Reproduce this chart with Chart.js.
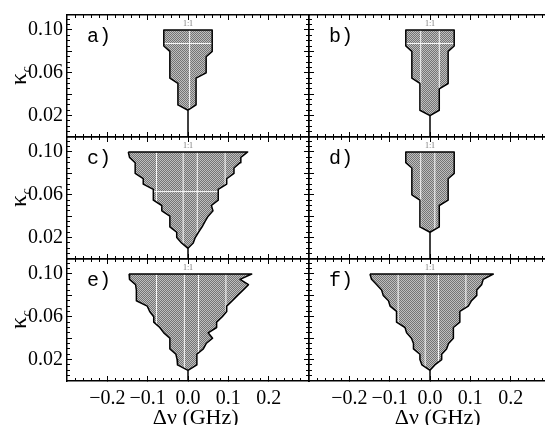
<!DOCTYPE html>
<html><head><meta charset="utf-8">
<script src="https://cdn.jsdelivr.net/npm/chart.js@4.4.0/dist/chart.umd.min.js"></script>
<style>
html,body{margin:0;padding:0;background:#fff;overflow:hidden;width:545px;height:425px;}
#wrap{position:relative;width:545px;height:425px;overflow:hidden;background:#fff;}
canvas{position:absolute;}
</style></head><body><div id="wrap"></div>
<script>
// ---------- data (kappa_c levels, left / right edge of the 1:1 locking region, GHz) ----------
const KAPPA_A = [0.025,0.03,0.035,0.04,0.045,0.05,0.055,0.06,0.065,0.07,0.075,0.08,0.085,0.09,0.095,0.10];
const LEFT_A  = [0,-0.025,-0.025,-0.025,-0.025,-0.025,-0.045,-0.045,-0.045,-0.045,-0.045,-0.045,-0.06,-0.06,-0.06,-0.06];
const RIGHT_A = [0,0.02,0.02,0.02,0.02,0.02,0.02,0.045,0.045,0.045,0.045,0.06,0.06,0.06,0.06,0.06];

const KAPPA_B = [0.02,0.025,0.03,0.035,0.04,0.045,0.05,0.055,0.06,0.065,0.07,0.075,0.08,0.085,0.09,0.095,0.10];
const LEFT_B  = [0,-0.025,-0.025,-0.025,-0.025,-0.025,-0.025,-0.045,-0.045,-0.045,-0.045,-0.045,-0.045,-0.06,-0.06,-0.06,-0.06];
const RIGHT_B = [0,0.023,0.023,0.023,0.023,0.023,0.045,0.045,0.045,0.045,0.045,0.045,0.045,0.06,0.06,0.06,0.06];

const KAPPA_D = [0.025,0.03,0.035,0.04,0.045,0.05,0.055,0.06,0.065,0.07,0.075,0.08,0.085,0.09,0.095,0.10];
const LEFT_D  = [0,-0.025,-0.025,-0.025,-0.025,-0.025,-0.025,-0.045,-0.045,-0.045,-0.045,-0.045,-0.045,-0.06,-0.06,-0.06];
const RIGHT_D = [0,0.023,0.023,0.023,0.023,0.023,0.045,0.045,0.045,0.045,0.045,0.06,0.06,0.06,0.06,0.06];

const KAPPA_WIDE = [0.01,0.015,0.02,0.025,0.03,0.035,0.04,0.045,0.05,0.055,0.06,0.065,0.07,0.075,0.08,0.085,0.09,0.095,0.10];
const LEFT_C  = [0,-0.016,-0.028,-0.028,-0.045,-0.045,-0.045,-0.065,-0.065,-0.086,-0.086,-0.086,-0.111,-0.111,-0.131,-0.131,-0.131,-0.145,-0.148];
const RIGHT_C = [0,0.013,0.018,0.026,0.035,0.042,0.05,0.062,0.058,0.075,0.075,0.075,0.096,0.096,0.114,0.114,0.129,0.131,0.148];
const LEFT_E  = [0,-0.026,-0.027,-0.03,-0.045,-0.045,-0.045,-0.06,-0.07,-0.085,-0.085,-0.095,-0.101,-0.128,-0.128,-0.128,-0.13,-0.145,-0.146];
const RIGHT_E = [0,0.022,0.022,0.022,0.038,0.045,0.061,0.05,0.071,0.071,0.085,0.096,0.096,0.11,0.123,0.137,0.15,0.129,0.158];
const LEFT_F  = [0,-0.02,-0.025,-0.025,-0.041,-0.041,-0.046,-0.058,-0.062,-0.083,-0.083,-0.083,-0.099,-0.103,-0.116,-0.12,-0.132,-0.145,-0.149];
const RIGHT_F = [0,0.012,0.029,0.029,0.041,0.046,0.058,0.058,0.058,0.074,0.074,0.074,0.095,0.103,0.116,0.116,0.128,0.132,0.157];

// white seams visible inside the filled regions
const SEAMX_A = [0.004], SEAMY_A = [0.0874];
const SEAMX_B = [-0.023,0.023], SEAMY_B = [0.0874];
const SEAMX_C = [-0.078,-0.012,0.023,0.092], SEAMY_C = [0.063];
const SEAMX_D = [-0.023,0.012], SEAMY_D = [];
const SEAMX_E = [-0.078,-0.009,0.026,0.094], SEAMY_E = [];
const SEAMX_F = [-0.079,-0.012,0.021,0.089], SEAMY_F = [];

const PANEL_LETTERS = ['a)','b)','c)','d)','e)','f)'];
const RATIO_LABEL = '1:1';

// ---------- axes / ticks ----------
const X_MAJOR = [-0.2,-0.1,0,0.1,0.2];
const X_LABELS = ['\u22120.2','\u22120.1','0.0','0.1','0.2'];
const Y_MAJOR = [0.02,0.04,0.06,0.08,0.10];
const Y_LABEL_VALUES = [0.02,0.06,0.10];
const Y_LABEL_TEXT = ['0.02','0.06','0.10'];
const X_MINOR = []; for (let i=-14;i<=14;i++) X_MINOR.push(i*0.02);
const Y_MINOR = []; for (let i=1;i<=22;i++) Y_MINOR.push(i*0.005);
const X_MIN=-0.3, X_MAX=0.3, Y_MIN=0, Y_MAX=0.114;
const X_TITLE = '\u2002\u2009\u0394\u03bd (GHz)';

// ---------- layout ----------
const COL_LEFT=[67,309], ROW_TOP=[15,137,259], PW=242, PH=122;

Chart.defaults.font.family = '"Liberation Serif", "Times New Roman", serif';
Chart.defaults.color = '#000';

function makePattern(){
  const c=document.createElement('canvas'); c.width=2; c.height=2;
  const g=c.getContext('2d');
  g.fillStyle='#bebebe'; g.fillRect(0,0,2,2);
  g.fillStyle='#747474'; g.fillRect(0,0,1,1); g.fillRect(1,1,1,1);
  return g.createPattern(c,'repeat');
}
const PATTERN = makePattern();

function polygon(K,L,R){
  const pts=[];
  for(let i=K.length-1;i>=0;i--) pts.push({x:L[i],y:K[i]});
  for(let i=1;i<K.length;i++) pts.push({x:R[i],y:K[i]});
  pts.push({x:L[K.length-1],y:K[K.length-1]});
  return pts;
}
function interp(K,A,h){
  for(let i=1;i<K.length;i++){
    if(h<=K[i]){const t=(h-K[i-1])/(K[i]-K[i-1]); return A[i-1]+t*(A[i]-A[i-1]);}
  }
  return A[A.length-1];
}
function seams(K,L,R,sx,sy){
  const pts=[]; const n=K.length; const top=K[n-1];
  sx.forEach(v=>{
    let i=n-1;
    while(i>0 && L[i-1]<v && R[i-1]>v) i--;
    let y0=K[i];
    if(i>0){
      let yc=K[i-1];
      if(!(L[i-1]<v) && L[i-1]!==L[i]){const s=(L[i-1]-v)/(L[i-1]-L[i]); yc=Math.max(yc,K[i-1]+s*(K[i]-K[i-1]));}
      if(!(R[i-1]>v) && R[i-1]!==R[i]){const s=(v-R[i-1])/(R[i]-R[i-1]); yc=Math.max(yc,K[i-1]+s*(K[i]-K[i-1]));}
      y0=yc;
    }
    pts.push({x:v,y:y0},{x:v,y:top},{x:v,y:null});
  });
  sy.forEach(h=>{
    const xl=interp(K,L,h), xr=interp(K,R,h);
    pts.push({x:xl,y:h},{x:xr,y:h},{x:xr,y:null});
  });
  return pts;
}

function tickAxis(position, major, vals, size, opts){
  opts = opts||{};
  const horiz = position==='top'||position==='bottom';
  return {
    type:'linear', position,
    min: horiz?X_MIN:Y_MIN, max: horiz?X_MAX:Y_MAX,
    weight: major?0:-1,
    afterBuildTicks: s=>{ s.ticks = vals.map(v=>({value:v})); },
    afterFit: s=>{
      if(horiz) s.height = major?size:0; else s.width = major?size:0;
      s.paddingTop=0; s.paddingBottom=0; s.paddingLeft=0; s.paddingRight=0;
    },
    grid:{drawOnChartArea:false, drawTicks:true, tickLength: major?-5:-3, tickColor:'#000', tickWidth:1},
    border:{display:major, color:'#000', width:1.5},
    ticks:{display:!!opts.labels, autoSkip:false, maxRotation:0, minRotation:0,
      padding: opts.padding||0, color:'#000',
      font:{family:'"Liberation Serif", serif', size:20},
      callback: opts.labels || (()=>'')},
    title: opts.title ? {display:true, text:opts.title, color:'#000',
      font:{family:'"Liberation Serif", serif', size:22, lineHeight:1.2}, padding:{top:0,bottom:0}} : {display:false}
  };
}

const annot = {
  id:'annot',
  afterDatasetsDraw(chart, args, o){
    const ctx=chart.ctx, xs=chart.scales.x, ys=chart.scales.y, ca=chart.chartArea;
    ctx.save();
    ctx.fillStyle='#7a7a7a'; ctx.font='8px "Liberation Serif"'; ctx.textAlign='center'; ctx.textBaseline='bottom';
    ctx.fillText(RATIO_LABEL, xs.getPixelForValue(0), ys.getPixelForValue(o.top)-2);
    ctx.fillStyle='#000'; ctx.font='20px "Liberation Mono"'; ctx.textAlign='left'; ctx.textBaseline='alphabetic';
    ctx.fillText(o.letter, ca.left+20, ca.top+27);
    if(o.ylabel){
      ctx.translate(25.5,(ca.top+ca.bottom)/2);
      ctx.rotate(-Math.PI/2);
      ctx.font='24px "Liberation Serif"'; const w1=ctx.measureText('\u03ba').width;
      ctx.font='italic 13px "Liberation Serif"'; const w2=ctx.measureText('c').width;
      const x0=-(w1+w2)/2;
      ctx.font='24px "Liberation Serif"'; ctx.fillText('\u03ba',x0,0);
      ctx.font='italic 13px "Liberation Serif"'; ctx.fillText('c',x0+w1+0.5,4);
    }
    ctx.restore();
  }
};

const PANELS = [
  {K:KAPPA_A, L:LEFT_A, R:RIGHT_A, sx:SEAMX_A, sy:SEAMY_A, row:0, col:0},
  {K:KAPPA_B, L:LEFT_B, R:RIGHT_B, sx:SEAMX_B, sy:SEAMY_B, row:0, col:1},
  {K:KAPPA_WIDE, L:LEFT_C, R:RIGHT_C, sx:SEAMX_C, sy:SEAMY_C, row:1, col:0},
  {K:KAPPA_D, L:LEFT_D, R:RIGHT_D, sx:SEAMX_D, sy:SEAMY_D, row:1, col:1},
  {K:KAPPA_WIDE, L:LEFT_E, R:RIGHT_E, sx:SEAMX_E, sy:SEAMY_E, row:2, col:0},
  {K:KAPPA_WIDE, L:LEFT_F, R:RIGHT_F, sx:SEAMX_F, sy:SEAMY_F, row:2, col:1}
];

const wrap=document.getElementById('wrap');
PANELS.forEach((p,idx)=>{
  const Lm = p.col===0?67:6, Rm=6, Tm = p.row===0?15:6, Bm = p.row===2?50:6;
  const cv=document.createElement('canvas');
  const W=Lm+PW+Rm, H=Tm+PH+Bm;
  cv.width=W; cv.height=H; cv.style.width=W+'px'; cv.style.height=H+'px';
  cv.style.left=(COL_LEFT[p.col]-Lm)+'px'; cv.style.top=(ROW_TOP[p.row]-Tm)+'px';
  wrap.appendChild(cv);
  const bottomRow = p.row===2, leftCol = p.col===0;
  const poly = polygon(p.K,p.L,p.R);
  const stem = [{x:0,y:0},{x:0,y:p.K[0]}];
  new Chart(cv,{
    type:'line',
    data:{datasets:[
      {data:poly, borderColor:'#000', borderWidth:1.5, pointRadius:0, fill:false, tension:0, borderJoinStyle:'round'},
      {data:seams(p.K,p.L,p.R,p.sx,p.sy), borderColor:'rgba(255,255,255,0.95)', borderWidth:1, pointRadius:0, fill:false, spanGaps:false},
      {data:poly, borderColor:'rgba(0,0,0,0)', borderWidth:0.01, pointRadius:0, fill:'shape', backgroundColor:PATTERN, tension:0},
      {data:stem, borderColor:'#000', borderWidth:1.5, pointRadius:0, fill:false}
    ]},
    options:{
      responsive:false, animation:false, devicePixelRatio:1, events:[],
      layout:{padding:0},
      plugins:{legend:{display:false}, tooltip:{enabled:false},
        annot:{letter:PANEL_LETTERS[idx], ylabel:leftCol, top:p.K[p.K.length-1]}},
      scales:{
        x: tickAxis('bottom',true,X_MAJOR,Bm, bottomRow?{labels:(v,i)=>X_LABELS[i], padding:11, title:X_TITLE}:null),
        x2: tickAxis('bottom',false,X_MINOR,0),
        xt: tickAxis('top',true,X_MAJOR,Tm),
        xt2: tickAxis('top',false,X_MINOR,0),
        y: tickAxis('left',true,Y_MAJOR,Lm, leftCol?{labels:(v)=>{const k=Y_LABEL_VALUES.findIndex(a=>Math.abs(a-v)<1e-9); return k<0?'':Y_LABEL_TEXT[k];}, padding:9}:null),
        y2: tickAxis('left',false,Y_MINOR,0),
        yr: tickAxis('right',true,Y_MAJOR,Rm),
        yr2: tickAxis('right',false,Y_MINOR,0)
      }
    },
    plugins:[annot]
  });
});
</script>
</body></html>
